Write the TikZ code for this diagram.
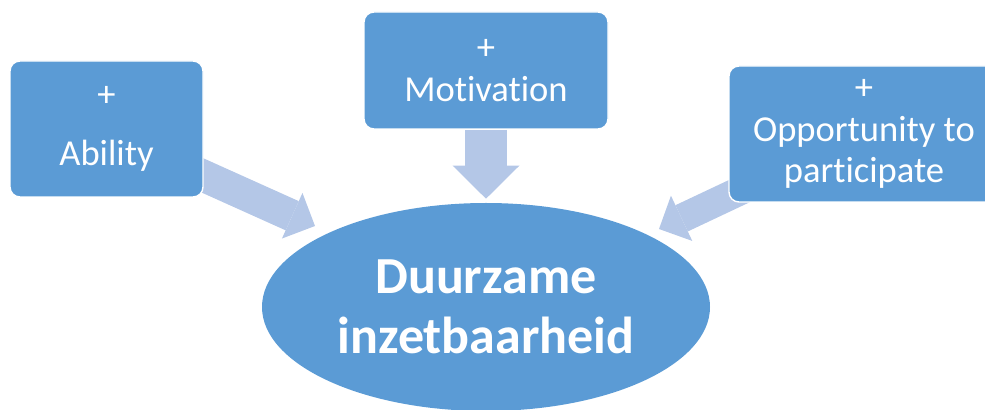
\documentclass[tikz,border=0pt]{standalone}
\usepackage{fontspec}
\setmainfont{Carlito}[Ligatures=NoCommon]
\usetikzlibrary{positioning,arrows.meta,backgrounds,shapes.geometric}
\definecolor{boxblue}{HTML}{5B9BD5}
\definecolor{arrowblue}{HTML}{B4C7E7}

\begin{document}
\begin{tikzpicture}[every node/.style={text=white, align=center},
                        box/.style={draw=white, line width=1pt, fill=boxblue, rounded corners=0.25cm, inner sep=0pt, font=\fontsize{26}{29.5}\selectfont},
                        flow/.style={arrowblue, line width=0.8cm, -{Triangle[length=0.625cm, width=1.25cm, line width=0pt]}}]
        \useasboundingbox (0,0) rectangle (24.625,10.25);

        \node (goal) [ellipse, fill=boxblue, inner sep=0pt, minimum width=11.2cm, minimum height=5.2cm, font=\bfseries\fontsize{37}{43}\selectfont] at (12.15,2.575) {Duurzame\\ inzetbaarheid};

        \node (ability) [box, minimum width=4.825cm, minimum height=3.4cm] at (2.6625,7.025) {+\\[12pt] Ability};
        \node (motivation) [box, minimum width=6.1cm, minimum height=2.925cm] at (12.15,8.4875) {+\\ Motivation};
        \node (opportunity) [box, minimum width=6.75cm, minimum height=3.4cm] at (21.6,6.9) {+\\ Opportunity to\\ participate};

        \coordinate (ability_out) at ([xshift=-0.425cm, yshift=0.735cm]ability.south east);
        \coordinate (ability_in) at ([xshift=-4.275cm, yshift=2.025cm]goal.center);
        \coordinate (opportunity_out) at ([xshift=0.775cm, yshift=0.525cm]opportunity.south west);
        \coordinate (opportunity_in) at ([xshift=4.325cm, yshift=1.95cm]goal.center);
        \coordinate (motivation_in) at ([yshift=0.1cm]goal.north);

        \begin{scope}[on background layer]
            \draw[flow] (ability_out) -- (ability_in);
            \draw[flow, line width=0.725cm] (opportunity_out) -- (opportunity_in);
            \draw[flow, line width=1.04cm, -{Triangle[length=0.83cm, width=1.675cm, line width=0pt]}] (motivation.south) -- (motivation_in);
        \end{scope}
    \end{tikzpicture}
\end{document}
